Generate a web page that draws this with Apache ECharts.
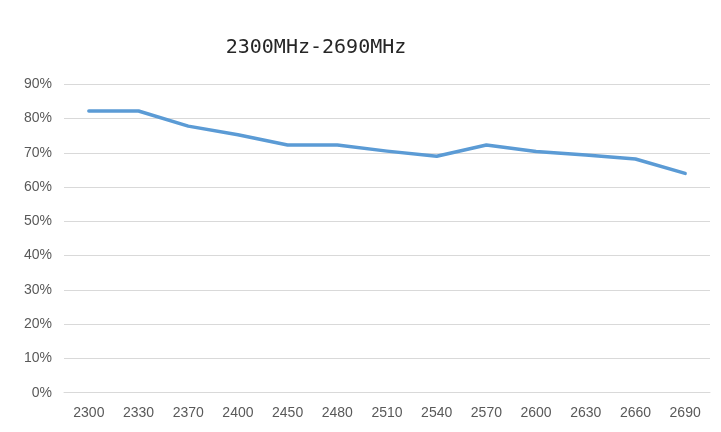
<!DOCTYPE html>
<html>
<head>
<meta charset="utf-8">
<script src="https://cdn.jsdelivr.net/npm/echarts@6/dist/echarts.min.js"></script>
<style>html,body{margin:0;padding:0;background:#fff;}#c{width:721px;height:432px;}</style>
</head>
<body>
<div id="c"></div>
<script>
var titleText = '2300MHz-2690MHz';
var categories = ['2300','2330','2370','2400','2450','2480','2510','2540','2570','2600','2630','2660','2690'];
var efficiency = [82.2, 82.2, 77.8, 75.3, 72.3, 72.3, 70.5, 69.0, 72.3, 70.4, 69.4, 68.2, 64.0];

var chart = echarts.init(document.getElementById('c'));
chart.setOption({
  animation: false,
  title: {
    text: titleText,
    left: 311, top: 33, textAlign: 'center',
    textStyle: { fontFamily: 'DejaVu Sans Mono', fontSize: 20, fontWeight: 'normal', color: '#262626' }
  },
  grid: { left: 64, right: 11, top: 84.3, bottom: 39.3, containLabel: false },
  xAxis: {
    type: 'category',
    data: categories,
    boundaryGap: true,
    axisLine: { show: true, lineStyle: { color: '#d9d9d9', width: 1 } },
    axisTick: { show: false },
    axisLabel: { color: '#595959', fontSize: 14, margin: 13, fontFamily: 'Liberation Sans' },
    splitLine: { show: false }
  },
  yAxis: {
    type: 'value',
    min: 0, max: 90, interval: 10,
    axisLine: { show: false },
    axisTick: { show: false },
    axisLabel: { color: '#595959', fontSize: 14, margin: 12, fontFamily: 'Liberation Sans', formatter: '{value}%' },
    splitLine: { lineStyle: { color: '#d9d9d9', width: 1 } }
  },
  series: [{
    type: 'line',
    data: efficiency,
    symbol: 'none',
    lineStyle: { color: '#5B9BD5', width: 3.5, cap: 'round', join: 'round' }
  }]
});
</script>
</body>
</html>
